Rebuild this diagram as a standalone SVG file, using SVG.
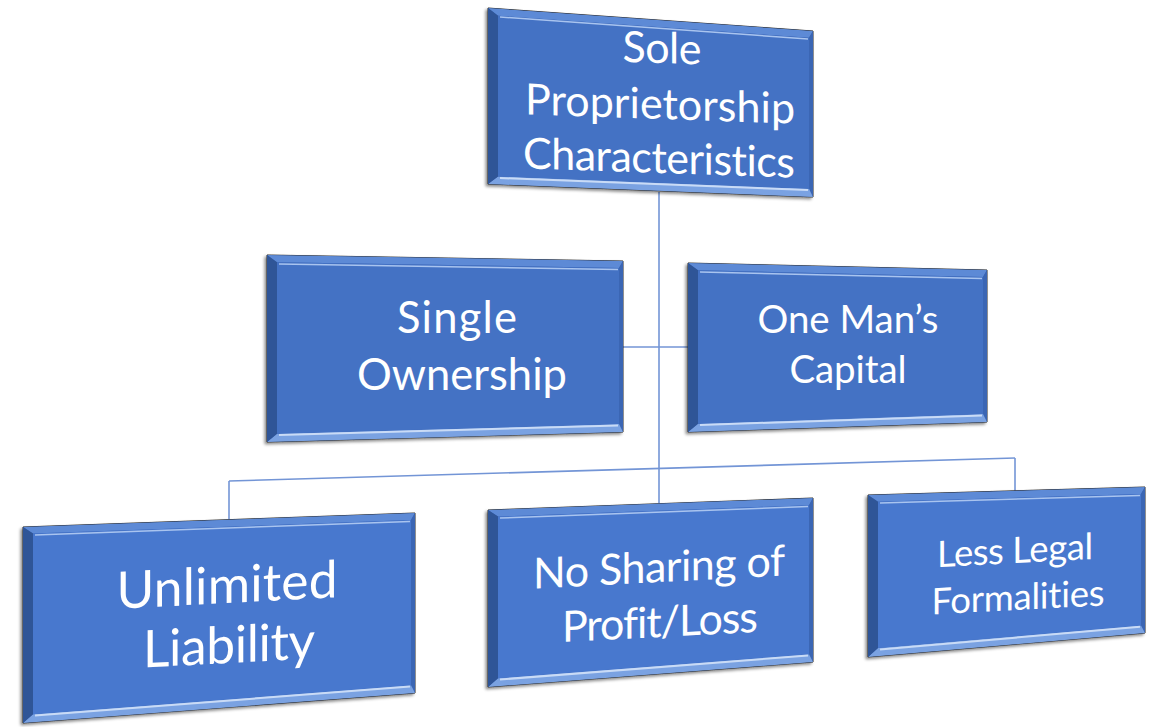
<svg xmlns="http://www.w3.org/2000/svg" width="1168" height="727" viewBox="0 0 1168 727">
<defs>
<filter id="sh" x="-10%" y="-10%" width="120%" height="120%">
<feDropShadow dx="-2" dy="2" stdDeviation="1.5" flood-color="#000" flood-opacity="0.45"/>
</filter>
</defs>
<style>
.outer{fill:#3a64b0;stroke:#2b2b2b;stroke-width:1;filter:url(#sh)}
.face{fill:#4472C4}
.faceb{fill:#4878CE}
.bt{fill:#5d8ad6}
.bl{fill:#2f5597}
.bb{fill:#7aa2e2}
.br{fill:#3b66b4}
.hl{stroke:#a9c4ef;stroke-width:1.5;fill:none}
.hb{stroke:#c9dbf6;stroke-width:2;fill:none}
.t{font-family:Lato,"Liberation Sans",sans-serif;fill:#fff;text-anchor:middle;font-variant-ligatures:none;font-feature-settings:"liga" 0,"clig" 0}
.c line{stroke:#7395D6;stroke-width:1.6}
</style>
<rect width="1168" height="727" fill="#fff"/>
<g class="c" id="connectors">
<line x1="659" y1="192" x2="659" y2="503"/>
<line x1="623" y1="347" x2="688" y2="347"/>
<line x1="229" y1="481" x2="1015" y2="458"/>
<line x1="229" y1="481" x2="229" y2="519"/>
<line x1="1015" y1="458" x2="1015" y2="491"/>
</g>
<g id="n1">
<polygon class="outer" points="488,8 813,31 813,197 488,184"/>
<polygon class="bt" points="488,8 813,31 809,37.7 498,15.7"/>
<polygon class="br" points="813,31 813,197 809,188.8 809,37.7"/>
<polygon class="bb" points="813,197 488,184 498,176.4 809,188.8"/>
<polygon class="bl" points="488,184 488,8 498,15.7 498,176.4"/>
<polygon class="face" points="498,15.7 809,37.7 809,188.8 498,176.4"/>
<line class="hl" x1="500" y1="17" x2="808" y2="39"/>
<line class="hb" x1="500" y1="178" x2="808" y2="190"/>
<g transform="translate(660,118) skewY(2) translate(-660,-118)">
<text class="t" x="662" y="63" font-size="43" textLength="79">Sole</text>
<text class="t" x="660" y="119" font-size="43" textLength="270">Proprietorship</text>
<text class="t" x="659" y="173" font-size="43" textLength="272">Characteristics</text>
</g>
</g>
<g id="n2">
<polygon class="outer" points="267,255 623,261 623,432 267,442"/>
<polygon class="bt" points="267,255 623,261 619,267.9 277,262.2"/>
<polygon class="br" points="623,261 623,432 619,424.1 619,267.9"/>
<polygon class="bb" points="623,432 267,442 277,433.7 619,424.1"/>
<polygon class="bl" points="267,442 267,255 277,262.2 277,433.7"/>
<polygon class="face" points="277,262.2 619,267.9 619,424.1 277,433.7"/>
<line class="hl" x1="279" y1="264" x2="618" y2="269.5"/>
<line class="hb" x1="279" y1="435" x2="618" y2="425.5"/>
<text class="t" x="457" y="333" font-size="43.5" textLength="120">Single</text>
<text class="t" x="462" y="390" font-size="43.5" textLength="210">Ownership</text>
</g>
<g id="n3">
<polygon class="outer" points="688,263 987,270 987,422 688,432"/>
<polygon class="bt" points="688,263 987,270 983,276.9 698,270.2"/>
<polygon class="br" points="987,270 987,422 983,414.1 983,276.9"/>
<polygon class="bb" points="987,422 688,432 698,423.7 983,414.1"/>
<polygon class="bl" points="688,432 688,263 698,270.2 698,423.7"/>
<polygon class="face" points="698,270.2 983,276.9 983,414.1 698,423.7"/>
<line class="hl" x1="700" y1="272" x2="982" y2="278.5"/>
<line class="hb" x1="700" y1="425" x2="982" y2="415.5"/>
<text class="t" x="848" y="333" font-size="38.5" textLength="181">One Man’s</text>
<text class="t" x="848" y="383" font-size="38.5" textLength="117">Capital</text>
</g>
<g id="n4">
<polygon class="outer" points="23,527 415,513 415,693 23,723"/>
<polygon class="bt" points="23,527 415,513 411,520.1 33,533.6"/>
<polygon class="br" points="415,513 415,693 411,685.3 411,520.1"/>
<polygon class="bb" points="415,693 23,723 33,714.2 411,685.3"/>
<polygon class="bl" points="23,723 23,527 33,533.6 33,714.2"/>
<polygon class="faceb" points="33,533.6 411,520.1 411,685.3 33,714.2"/>
<line class="hl" x1="35" y1="535" x2="410" y2="521.5"/>
<line class="hb" x1="35" y1="715.5" x2="410" y2="686.5"/>
<g transform="translate(228,633) skewY(-3) translate(-228,-633)">
<text class="t" x="227" y="603" font-size="51.5" textLength="221">Unlimited</text>
<text class="t" x="229" y="663" font-size="51.5" textLength="172">Liability</text>
</g>
</g>
<g id="n5">
<polygon class="outer" points="488,510 813,498 813,662 488,687"/>
<polygon class="bt" points="488,510 813,498 809,505.2 498,516.6"/>
<polygon class="br" points="813,498 813,662 809,654.3 809,505.2"/>
<polygon class="bb" points="813,662 488,687 498,678.2 809,654.3"/>
<polygon class="bl" points="488,687 488,510 498,516.6 498,678.2"/>
<polygon class="faceb" points="498,516.6 809,505.2 809,654.3 498,678.2"/>
<line class="hl" x1="500" y1="518" x2="808" y2="506.6"/>
<line class="hb" x1="500" y1="679.5" x2="808" y2="655.5"/>
<g transform="translate(660,610) skewY(-3) translate(-660,-610)">
<text class="t" x="659" y="582" font-size="43" textLength="252">No Sharing of</text>
<text class="t" x="660" y="637" font-size="43" textLength="196">Profit/Loss</text>
</g>
</g>
<g id="n6">
<polygon class="outer" points="868,495 1145,487 1145,633 868,657"/>
<polygon class="bt" points="868,495 1145,487 1141,494.1 878,501.7"/>
<polygon class="br" points="1145,487 1145,633 1141,625.4 1141,494.1"/>
<polygon class="bb" points="1145,633 868,657 878,648.1 1141,625.4"/>
<polygon class="bl" points="868,657 868,495 878,501.7 878,648.1"/>
<polygon class="faceb" points="878,501.7 1141,494.1 1141,625.4 878,648.1"/>
<line class="hl" x1="880" y1="503" x2="1140" y2="495.5"/>
<line class="hb" x1="880" y1="649.5" x2="1140" y2="626.7"/>
<g transform="translate(1016,586) skewY(-3) translate(-1016,-586)">
<text class="t" x="1015" y="563" font-size="36.5" textLength="156">Less Legal</text>
<text class="t" x="1018" y="610" font-size="36.5" textLength="173">Formalities</text>
</g>
</g>
</svg>
